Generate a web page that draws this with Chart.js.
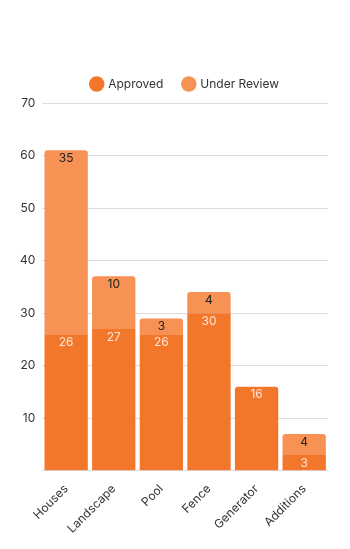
<!DOCTYPE html>
<html>
<head>
<meta charset="utf-8">
<script src="https://cdn.jsdelivr.net/npm/chart.js@4"></script>
<style>
  html, body { margin: 0; padding: 0; background: #fff; }
  #wrap { width: 350px; height: 549px; }
</style>
</head>
<body>
<div id="wrap"><canvas id="c" width="350" height="549"></canvas></div>
<script>
const categories = ['Houses', 'Landscape', 'Pool', 'Fence', 'Generator', 'Additions'];
const approved = [26, 27, 26, 30, 16, 3];
const underReview = [35, 10, 3, 4, 0, 4];
const yTicks = [10, 20, 30, 40, 50, 60, 70];

const COLOR_APPROVED = '#F2772B';
const COLOR_REVIEW = '#F79254';
const FONT = 'Inter, "Noto Sans", sans-serif';

// Writes each segment's value just inside its top edge
const segmentLabels = {
  id: 'segmentLabels',
  afterDatasetsDraw(chart) {
    const ctx = chart.ctx;
    ctx.save();
    ctx.font = '12px ' + FONT;
    ctx.textAlign = 'center';
    ctx.textBaseline = 'middle';
    chart.data.datasets.forEach((ds, di) => {
      const meta = chart.getDatasetMeta(di);
      meta.data.forEach((el, i) => {
        const v = ds.data[i];
        if (!v) return;
        ctx.fillStyle = ds.labelColor;
        ctx.fillText(String(v), el.x, el.y + 8);
      });
    });
    ctx.restore();
  }
};

// Adds room below the legend and centres it over the plot area
const legendPlacement = {
  id: 'legendPlacement',
  beforeInit(chart) {
    const fit = chart.legend.fit;
    chart.legend.fit = function () {
      fit.call(this);
      this.height += 3;
    };
  },
  afterLayout(chart) {
    const lg = chart.legend;
    const area = chart.chartArea;
    const shift = (area.left + area.right) / 2 - (lg.left + lg.right) / 2;
    lg.left += shift;
    lg.right += shift;
  }
};

new Chart(document.getElementById('c'), {
  type: 'bar',
  data: {
    labels: categories,
    datasets: [
      {
        label: 'Approved',
        data: approved,
        backgroundColor: COLOR_APPROVED,
        labelColor: 'rgba(255,235,220,0.95)',
        borderSkipped: 'start',
        borderRadius: (c) => (underReview[c.dataIndex] ? 0 : { topLeft: 3, topRight: 3 }),
        categoryPercentage: 0.91,
        barPercentage: 1
      },
      {
        label: 'Under Review',
        data: underReview,
        backgroundColor: COLOR_REVIEW,
        labelColor: '#1f1f1f',
        borderSkipped: 'start',
        borderRadius: { topLeft: 3, topRight: 3 },
        categoryPercentage: 0.91,
        barPercentage: 1
      }
    ]
  },
  options: {
    responsive: false,
    animation: false,
    layout: { padding: { top: 58, right: 22, left: 13, bottom: 10 } },
    plugins: {
      legend: {
        display: true,
        position: 'top',
        labels: {
          usePointStyle: true,
          pointStyle: 'circle',
          boxWidth: 11,
          boxHeight: 11,
          padding: 20,
          color: '#333',
          font: { family: FONT, size: 12 }
        }
      },
      tooltip: { enabled: false }
    },
    scales: {
      x: {
        stacked: true,
        grid: { display: false },
        border: { display: false },
        ticks: {
          color: '#333',
          maxRotation: 45,
          minRotation: 45,
          font: { family: FONT, size: 12 }
        }
      },
      y: {
        stacked: true,
        min: 0,
        max: 70,
        afterBuildTicks(axis) {
          axis.ticks = [0].concat(yTicks).map(v => ({ value: v }));
        },
        grid: { color: '#dcdcdc', drawTicks: false, lineWidth: 1 },
        border: { display: false },
        ticks: {
          padding: 7,
          color: '#333',
          font: { family: FONT, size: 12 },
          callback: (v) => (v === 0 ? '' : v)
        }
      }
    }
  },
  plugins: [segmentLabels, legendPlacement]
});
</script>
</body>
</html>
